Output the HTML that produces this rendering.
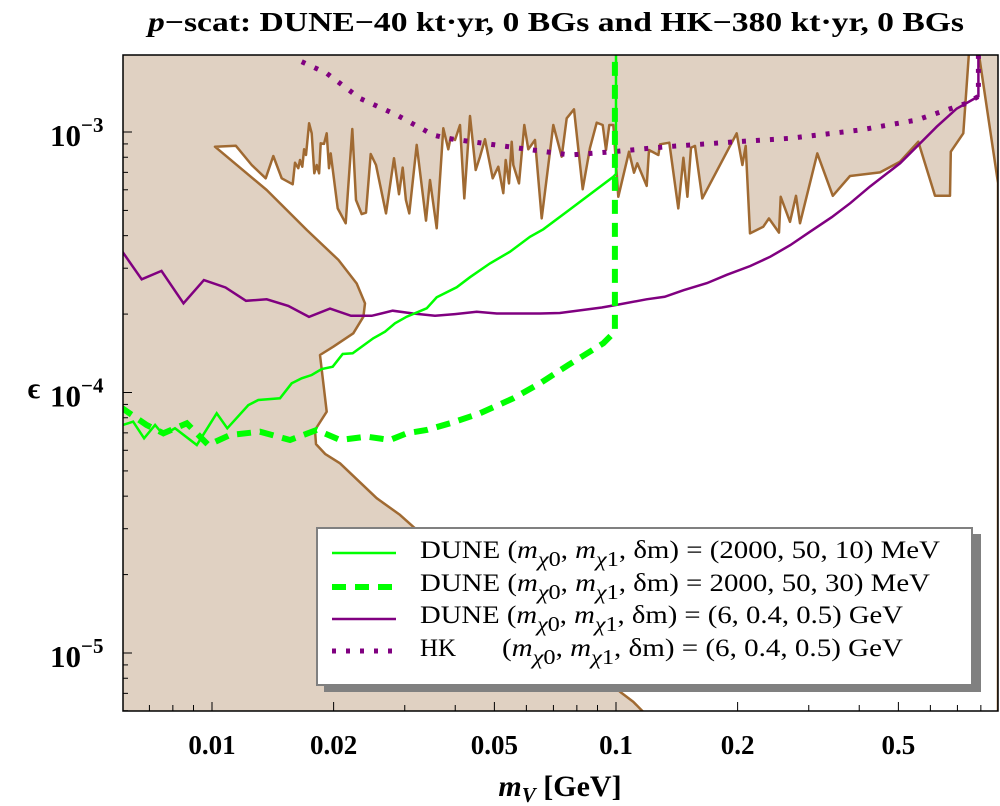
<!DOCTYPE html>
<html><head><meta charset="utf-8"><style>
html,body{margin:0;padding:0;background:#fff;}
svg{display:block;font-family:"Liberation Serif",serif;}
</style></head><body>
<svg id="chart" width="1000" height="806" viewBox="0 0 1000 806" xmlns="http://www.w3.org/2000/svg">
<defs><clipPath id="pc"><rect x="123" y="55" width="875" height="656"/></clipPath></defs>
<text x="556" y="31" text-anchor="middle" font-size="27" font-weight="bold" textLength="816" lengthAdjust="spacingAndGlyphs"><tspan font-style="italic">p</tspan>−scat: DUNE−40 kt·yr, 0 BGs and HK−380 kt·yr, 0 BGs</text>
<g id="plot" clip-path="url(#pc)"></g>
<g id="axes"></g>
<g id="legend">
<rect x="324" y="534" width="657" height="158" fill="#808080"/>
<rect x="317" y="528" width="655" height="157" fill="#fff" stroke="#808080" stroke-width="2"/>
<line x1="332" y1="553" x2="396" y2="553" stroke="#00ff00" stroke-width="2.5"/>
<line x1="332" y1="587" x2="396" y2="587" stroke="#00ff00" stroke-width="6" stroke-dasharray="14,9"/>
<line x1="332" y1="619" x2="396" y2="619" stroke="#800080" stroke-width="2.5"/>
<line x1="332" y1="651" x2="396" y2="651" stroke="#800080" stroke-width="5" stroke-dasharray="4,10"/>
<text x="420" y="558" font-size="25" textLength="520" lengthAdjust="spacingAndGlyphs">DUNE (<tspan font-style="italic">m</tspan><tspan font-size="21" dy="8"><tspan font-style="italic">χ</tspan>0</tspan><tspan dy="-8">, </tspan><tspan font-style="italic">m</tspan><tspan font-size="21" dy="8"><tspan font-style="italic">χ</tspan>1</tspan><tspan dy="-8">, δm) = (2000, 50, 10) MeV</tspan></text>
<text x="420" y="591" font-size="25" textLength="510" lengthAdjust="spacingAndGlyphs">DUNE (<tspan font-style="italic">m</tspan><tspan font-size="21" dy="8"><tspan font-style="italic">χ</tspan>0</tspan><tspan dy="-8">, </tspan><tspan font-style="italic">m</tspan><tspan font-size="21" dy="8"><tspan font-style="italic">χ</tspan>1</tspan><tspan dy="-8">, δm) = 2000, 50, 30) MeV</tspan></text>
<text x="420" y="623" font-size="25" textLength="483" lengthAdjust="spacingAndGlyphs">DUNE (<tspan font-style="italic">m</tspan><tspan font-size="21" dy="8"><tspan font-style="italic">χ</tspan>0</tspan><tspan dy="-8">, </tspan><tspan font-style="italic">m</tspan><tspan font-size="21" dy="8"><tspan font-style="italic">χ</tspan>1</tspan><tspan dy="-8">, δm) = (6, 0.4, 0.5) GeV</tspan></text>
<text x="420" y="656" font-size="25">HK</text>
<text x="502" y="656" font-size="25" textLength="401" lengthAdjust="spacingAndGlyphs">(<tspan font-style="italic">m</tspan><tspan font-size="21" dy="8"><tspan font-style="italic">χ</tspan>0</tspan><tspan dy="-8">, </tspan><tspan font-style="italic">m</tspan><tspan font-size="21" dy="8"><tspan font-style="italic">χ</tspan>1</tspan><tspan dy="-8">, δm) = (6, 0.4, 0.5) GeV</tspan></text>
</g>
<text x="560" y="796" text-anchor="middle" font-size="30" font-weight="bold"><tspan font-style="italic">m</tspan><tspan font-style="italic" font-size="21" dy="6">V</tspan><tspan dy="-6"> [GeV]</tspan></text>
<text x="34" y="398" text-anchor="middle" font-size="30" font-weight="bold">ϵ</text>
</svg>
<script>
// ---- data ----
const xTickVals = [0.01, 0.02, 0.05, 0.1, 0.2, 0.5];
const xTickLabels = ["0.01", "0.02", "0.05", "0.1", "0.2", "0.5"];
const xMinorVals = [0.007, 0.008, 0.009, 0.03, 0.04, 0.06, 0.07, 0.08, 0.09, 0.3, 0.4, 0.6, 0.7, 0.8];
const yTickExps = [-3, -4, -5];
const yTickLabels = ["−3", "−4", "−5"];

const duneMeV10_m = [0.00592,0.00638,0.00679,0.00723,0.00758,0.0081,0.00917,0.01027,0.01091,0.0123,0.01302,0.01473,0.01575,0.01667,0.01765,0.01869,0.0199,0.02106,0.0223,0.02507,0.0268,0.02838,0.03034,0.034,0.036,0.04034,0.04351,0.04878,0.05466,0.06124,0.06607,0.07621,0.0985,0.1,0.1];
const duneMeV10_eps = [7.44e-5,7.73e-5,6.67e-5,7.5e-5,6.87e-5,7.29e-5,6.29e-5,8.32e-5,7.29e-5,8.95e-5,9.36e-5,9.5e-5,1.085e-4,1.134e-4,1.167e-4,1.231e-4,1.256e-4,1.405e-4,1.414e-4,1.615e-4,1.712e-4,1.844e-4,1.954e-4,2.104e-4,2.32e-4,2.535e-4,2.77e-4,3.13e-4,3.47e-4,3.96e-4,4.23e-4,4.99e-4,6.73e-4,6.9e-4,2.1e-3];

const duneMeV30_m = [0.00592,0.00689,0.00758,0.00866,0.00979,0.01108,0.01315,0.0156,0.01816,0.02074,0.02415,0.02758,0.03034,0.034,0.03882,0.04607,0.0557,0.06486,0.07621,0.093,0.0994,0.0994];
const duneMeV30_eps = [8.82e-5,7.5e-5,6.97e-5,7.62e-5,6.29e-5,6.87e-5,7.07e-5,6.57e-5,7.18e-5,6.57e-5,6.77e-5,6.57e-5,6.97e-5,7.18e-5,7.62e-5,8.32e-5,9.5e-5,1.085e-4,1.275e-4,1.545e-4,1.712e-4,2.1e-3];

const duneGeV_m = [0.006,0.0067,0.0075,0.0085,0.00955,0.0108,0.01214,0.01366,0.01545,0.01738,0.01959,0.02208,0.02485,0.028,0.03148,0.03565,0.03995,0.0452,0.0507,0.0573,0.0649,0.0726,0.0922,0.1004,0.119,0.132,0.147,0.168,0.188,0.215,0.241,0.27,0.302,0.342,0.38,0.425,0.505,0.555,0.622,0.697,0.789,0.789];
const duneGeV_eps = [3.47e-4,2.72e-4,2.93e-4,2.2e-4,2.7e-4,2.53e-4,2.25e-4,2.28e-4,2.15e-4,1.95e-4,2.1e-4,1.97e-4,1.97e-4,2.06e-4,2.01e-4,1.97e-4,2.0e-4,2.04e-4,2.01e-4,2.01e-4,2.01e-4,2.02e-4,2.12e-4,2.17e-4,2.28e-4,2.33e-4,2.47e-4,2.63e-4,2.83e-4,3.06e-4,3.32e-4,3.68e-4,4.14e-4,4.71e-4,5.33e-4,6.17e-4,7.58e-4,8.78e-4,1.048e-3,1.23e-3,1.37e-3,2.1e-3];

const hk_m = [0.01667,0.01923,0.02324,0.02865,0.0353,0.0381,0.0769,0.0983,0.1335,0.199,0.2696,0.402,0.555,0.738,0.789,0.789];
const hk_eps = [1.862e-3,1.68e-3,1.346e-3,1.162e-3,0.974e-3,0.946e-3,0.816e-3,0.84e-3,0.878e-3,0.918e-3,0.946e-3,1.018e-3,1.112e-3,1.29e-3,1.37e-3,2.1e-3];

// allowed (white) region boundary; everything else in the frame is excluded
const allowed_m = [0.01017,0.01145,0.01254,0.01358,0.01418,0.01488,0.01584,0.01605,0.01635,0.01651,0.01673,0.0169,0.01709,0.01739,0.01765,0.01792,0.01816,0.01841,0.01858,0.01893,0.01923,0.01948,0.01967,0.02047,0.02142,0.02225,0.02272,0.02347,0.02406,0.02471,0.02547,0.02696,0.02821,0.02903,0.02965,0.0302,0.03078,0.03211,0.03386,0.03464,0.036,0.03738,0.03846,0.03899,0.03995,0.04111,0.04213,0.04351,0.04495,0.04607,0.0474,0.04953,0.05113,0.0526,0.05333,0.05434,0.0552,0.0557,0.05754,0.0593,0.06066,0.06302,0.06548,0.06995,0.07338,0.07551,0.0787,0.08272,0.08623,0.08958,0.09271,0.09447,0.09625,0.09847,0.1013,0.1077,0.1108,0.1129,0.1191,0.1207,0.1273,0.1285,0.1355,0.1426,0.1468,0.1502,0.1533,0.1569,0.1635,0.199,0.2055,0.2094,0.2146,0.2315,0.2391,0.2532,0.2557,0.2696,0.2789,0.2854,0.315,0.344,0.3795,0.4502,0.5047,0.5601,0.6161,0.6712,0.674,0.7239,0.749,0.787,0.882,0.882,0.1226,0.1103,0.1023,0.0315,0.0292,0.02557,0.02074,0.01905,0.01809,0.01799,0.01923,0.01851,0.01996,0.02238,0.0237,0.02392,0.02281,0.02055,0.01716,0.01366];
const allowed_eps = [8.78e-4,8.86e-4,7.47e-4,6.64e-4,8.09e-4,6.64e-4,6.3e-4,7.62e-4,7.26e-4,7.81e-4,7.36e-4,8.58e-4,8.16e-4,1.08e-3,0.989e-3,6.94e-4,7.47e-4,6.94e-4,9.05e-4,9.0e-4,0.989e-3,7.26e-4,8.28e-4,5.09e-4,4.46e-4,1.027e-3,5.48e-4,4.84e-4,4.9e-4,8.23e-4,7.47e-4,4.87e-4,7.93e-4,5.77e-4,7.3e-4,5.48e-4,4.87e-4,8.92e-4,4.57e-4,6.54e-4,4.27e-4,1.033e-3,8.58e-4,0.954e-3,0.932e-3,1.064e-3,5.56e-4,1.152e-3,7.15e-4,8.04e-4,0.938e-3,6.64e-4,7.36e-4,5.82e-4,7.81e-4,6.35e-4,0.918e-3,7.47e-4,6.35e-4,1.064e-3,8.58e-4,0.932e-3,4.66e-4,1.064e-3,8.04e-4,1.129e-3,1.222e-3,6.03e-4,8.7e-4,1.086e-3,1.064e-3,8.53e-4,1.064e-3,1.064e-3,5.64e-4,8.4e-4,6.98e-4,7.58e-4,6.21e-4,8.53e-4,8.16e-4,8.97e-4,9.1e-4,5.09e-4,7.97e-4,5.64e-4,8.7e-4,8.84e-4,5.56e-4,0.989e-3,7.47e-4,8.84e-4,4.08e-4,4.33e-4,4.66e-4,4.11e-4,5.64e-4,4.52e-4,5.69e-4,4.46e-4,8.28e-4,5.69e-4,6.78e-4,7.0e-4,7.69e-4,0.918e-3,5.69e-4,5.69e-4,8.4e-4,0.989e-3,2.1e-3,2.1e-3,6.37e-4,5.5e-6,5.5e-6,6.5e-6,7.1e-6,3.05e-5,3.39e-5,3.93e-5,5.35e-5,5.81e-5,6.34e-5,7.18e-5,8.44e-5,1.393e-4,1.499e-4,1.687e-4,1.954e-4,2.2e-4,2.62e-4,3.23e-4,4.21e-4,5.99e-4];

// ---- axis functions ----
function X(m){ return 212 + 404*(Math.log10(m)+2); }
function Y(e){ return 132 - 260.5*(Math.log10(e)+3); }
const NS='http://www.w3.org/2000/svg';
const plot=document.getElementById('plot');
const axes=document.getElementById('axes');
function mk(tag, attrs, parent){ const el=document.createElementNS(NS,tag); for(const k in attrs) el.setAttribute(k,attrs[k]); parent.appendChild(el); return el; }
function pts(ms, es){ return ms.map((m,i)=>X(m).toFixed(1)+','+Y(es[i]).toFixed(1)).join(' '); }

const bg=mk('rect',{x:123,y:55,width:875,height:656,fill:'#e0d1c2'},plot);


const allowed=mk('polygon',{points:pts(allowed_m,allowed_eps),fill:'#ffffff',stroke:'#a06a32','stroke-width':2.5,'stroke-linejoin':'round'},plot);



const s1=mk('polyline',{points:pts(duneGeV_m,duneGeV_eps),fill:'none',stroke:'#800080','stroke-width':2.5},plot);


const s2=mk('polyline',{points:pts(hk_m,hk_eps),fill:'none',stroke:'#800080','stroke-width':5,'stroke-dasharray':'4,10'},plot);


const s3=mk('polyline',{points:pts(duneMeV10_m,duneMeV10_eps),fill:'none',stroke:'#00ff00','stroke-width':2.5},plot);


const s4=mk('polyline',{points:pts(duneMeV30_m,duneMeV30_eps),fill:'none',stroke:'#00ff00','stroke-width':6,'stroke-dasharray':'14,9'},plot);



const fr=mk('rect',{x:123,y:55,width:875,height:656,fill:'none',stroke:'#000','stroke-width':1.5},axes);



xTickVals.forEach((v,i)=>{
  const x=X(v);
  const t=mk('line',{x1:x,y1:711,x2:x,y2:702,stroke:'#000','stroke-width':1},axes);
  
  
  const lb=mk('text',{x:x,y:754,'text-anchor':'middle','font-size':27,'font-weight':'bold'},axes);
  lb.textContent=xTickLabels[i];
  
  
});
xMinorVals.forEach(v=>{
  const x=X(v);
  const t=mk('line',{x1:x,y1:711,x2:x,y2:705,stroke:'#000','stroke-width':1},axes);
  
  
});
yTickExps.forEach((ex,i)=>{
  const y=Y(Math.pow(10,ex));
  const t=mk('line',{x1:123,y1:y,x2:132,y2:y,stroke:'#000','stroke-width':1},axes);
  
  
  const lb=mk('text',{x:50,y:y+14,'font-size':31,'font-weight':'bold'},axes);
  
  
  const a=document.createElementNS(NS,'tspan'); a.textContent='10'; lb.appendChild(a);
  const b=document.createElementNS(NS,'tspan'); b.setAttribute('dy','-14'); b.setAttribute('font-size','21'); b.textContent=yTickLabels[i]; lb.appendChild(b);
  for(let k=2;k<=9;k++){
    const e=k*Math.pow(10,ex);
    const yy=Y(e);
    if(yy<55||yy>711) continue;
    const mt=mk('line',{x1:123,y1:yy,x2:128,y2:yy,stroke:'#000','stroke-width':1},axes);
    
    
  }
});
const extra=[6,7,8,9].map(k=>k*1e-6);
extra.forEach(e=>{
  const yy=Y(e); if(yy>711) return;
  const mt=mk('line',{x1:123,y1:yy,x2:128,y2:yy,stroke:'#000','stroke-width':1},axes);
  
  
});
</script>
</body></html>
